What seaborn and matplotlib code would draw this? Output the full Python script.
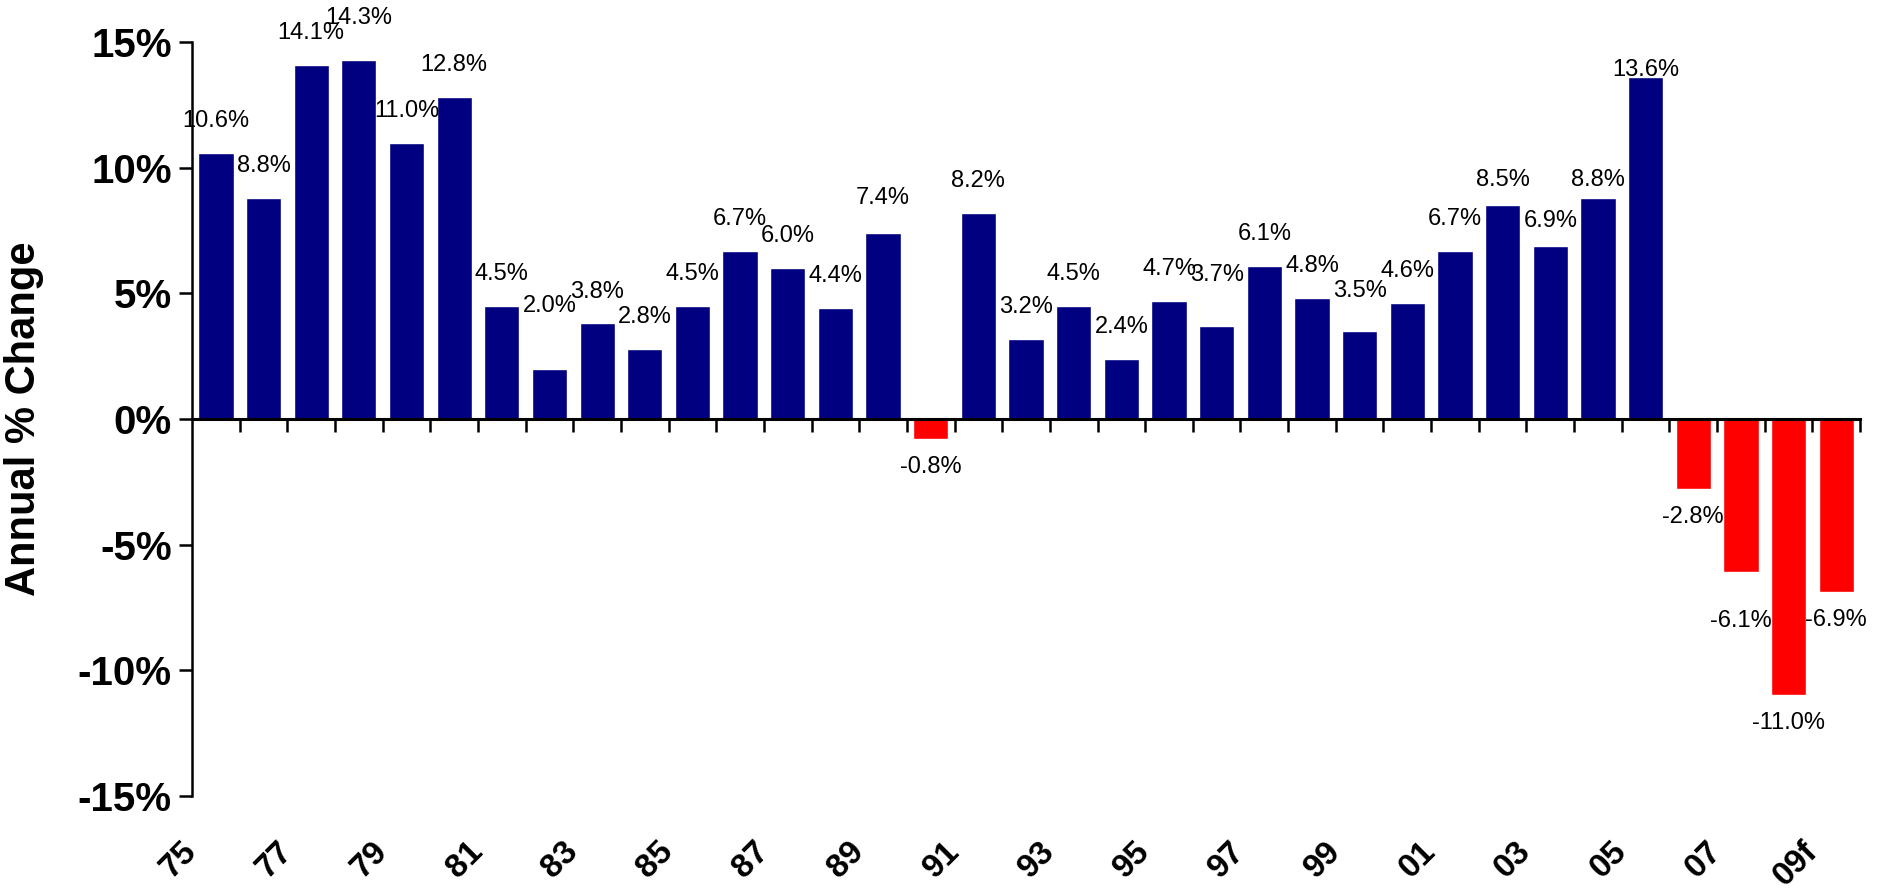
import matplotlib
matplotlib.use("Agg")
import matplotlib.pyplot as plt
import seaborn as sns
import pandas as pd
import numpy as np

# Annual % change by year (last year is a forecast)
years = ['75', '76', '77', '78', '79', '80', '81', '82', '83', '84',
         '85', '86', '87', '88', '89', '90', '91', '92', '93', '94',
         '95', '96', '97', '98', '99', '00', '01', '02', '03', '04',
         '05', '06', '07', '08', '09f']
changes = [10.6, 8.8, 14.1, 14.3, 11.0, 12.8, 4.5, 2.0, 3.8, 2.8,
           4.5, 6.7, 6.0, 4.4, 7.4, -0.8, 8.2, 3.2, 4.5, 2.4,
           4.7, 3.7, 6.1, 4.8, 3.5, 4.6, 6.7, 8.5, 6.9, 8.8,
           13.6, -2.8, -6.1, -11.0, -6.9]
y_ticks = [-15, -10, -5, 0, 5, 10, 15]
y_title = 'Annual % Change'

# extra vertical nudges (points) for a few crowded value labels
label_nudge = {3: 7, 7: 22, 14: 2, 21: 14, 24: 6, 27: -5, 28: -5,
               29: -10, 30: -18, 32: 15}

UP = '#000080'
DOWN = '#FF0000'

df = pd.DataFrame({'year': years, 'change': changes})
df['direction'] = np.where(df['change'] >= 0, 'up', 'down')

sns.set_style('white')
plt.rcParams['font.family'] = ['Liberation Sans', 'DejaVu Sans']
plt.rcParams['text.color'] = 'black'
plt.rcParams['xtick.color'] = 'black'
plt.rcParams['ytick.color'] = 'black'
plt.rcParams['axes.labelcolor'] = 'black'

fig = plt.figure(figsize=(18.83, 8.91), dpi=100)
ax = fig.add_axes([0.102, 0.1066, 0.8858, 0.8463])

sns.barplot(data=df, x='year', y='change', hue='direction', order=years,
            hue_order=['up', 'down'], palette={'up': UP, 'down': DOWN},
            dodge=False, width=0.74, saturation=1, legend=False, ax=ax)

n = len(years)
ax.set_xlim(-0.5, n - 0.5)
ax.set_ylim(-15, 15)

# axes frame: left spine plus a zero baseline with tick marks between bars
for side in ('top', 'right'):
    ax.spines[side].set_visible(False)
ax.spines['bottom'].set_position(('data', 0))
ax.spines['bottom'].set_linewidth(2.2)
ax.spines['left'].set_linewidth(1.8)
ax.spines['bottom'].set_color('black')
ax.spines['left'].set_color('black')

ax.set_xticks(np.arange(0.5, n, 1.0))
ax.set_xticklabels([])
ax.tick_params(axis='x', direction='out', length=9, width=1.8, color='black',
               bottom=True)
ax.set_xlabel('')

ax.set_yticks(y_ticks)
ax.set_yticklabels([f'{t}%' for t in y_ticks], fontsize=29,
                   fontweight='bold')
ax.tick_params(axis='y', direction='out', length=9.5, width=1.8,
               color='black', left=True, pad=5)
ax.set_ylabel(y_title, fontsize=30, fontweight='bold')
ax.yaxis.set_label_coords(-0.089, 0.5)

# year labels at every other bar boundary, along the bottom
xt = ax.get_xaxis_transform()
for i, yr in enumerate(years):
    if i % 2 == 0:
        ax.text(i - 0.5, -0.067, yr, transform=xt, rotation=45,
                rotation_mode='anchor', ha='right', va='center',
                fontsize=24, fontweight='bold')

# value labels
for i, v in enumerate(changes):
    off = 23 if v >= 0 else -20
    off += label_nudge.get(i, 0) * (1 if v >= 0 else -1)
    ax.annotate(f'{v:.1f}%', xy=(i, v), xytext=(0, off),
                textcoords='offset points', ha='center', va='center',
                fontsize=17, color='black', annotation_clip=False)

ax.grid(False)
fig.savefig('out.png', dpi=100)
